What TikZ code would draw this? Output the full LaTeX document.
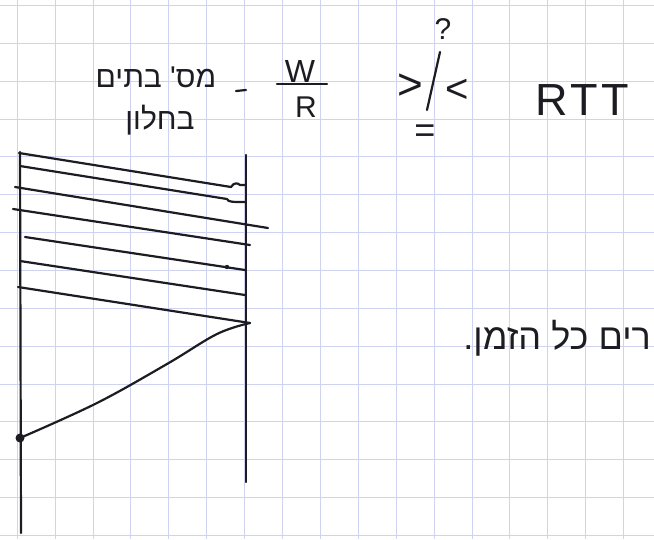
\documentclass[tikz,border=0pt]{standalone}
\usepackage{fontspec}
\setmainfont{Liberation Sans}
\newfontfamily\hebfont[Script=Hebrew]{Liberation Sans}
\TeXXeTstate=1
\definecolor{gridc}{RGB}{208,211,240}
\definecolor{ink}{RGB}{28,28,34}
\tikzset{
  gridline/.style={draw=gridc,line width=0.6pt},
  pen/.style={draw=ink,line width=2.2pt,line cap=round,line join=round},
  txt/.style={text=ink,inner sep=0pt},
}
\begin{document}
\begin{tikzpicture}[x=1pt,y=-1pt]
\useasboundingbox (0,0) rectangle (654,539);
\fill[white] (0,0) rectangle (654,539);
% grid paper
\foreach \i in {0,...,16} \draw[gridline] ({17+37.9*\i},0) -- ({17+37.9*\i},539);
\foreach \j in {0,...,14} \draw[gridline] (0,{5.3+37.85*\j}) -- (654,{5.3+37.85*\j});
% heading texts
\node[txt,font=\hebfont\fontsize{30}{30}\selectfont] (t1) at (156,77) {\beginR מס' בתים\endR};
\node[txt,font=\hebfont\fontsize{30}{30}\selectfont] (t2) at (160,120) {\beginR בחלון\endR};
\coordinate (d1) at (236,91); \coordinate (d2) at (246,90);
\draw[pen] (d1) -- (d2);
\node[txt,font=\fontsize{32}{32}\selectfont] (w) at (300,71) {W};
\coordinate (fb1) at (277,84); \coordinate (fb2) at (327,84);
\draw[pen] (fb1) -- (fb2);
\node[txt,font=\fontsize{30}{30}\selectfont] (r) at (306,107) {R};
\node[txt,font=\fontsize{44}{44}\selectfont] (gt) at (410,87) {>};
\node[txt,font=\fontsize{40}{40}\selectfont] (lt) at (457,91) {<};
\node[txt,font=\fontsize{30}{30}\selectfont] (q) at (443,29) {?};
\node[txt,font=\fontsize{36}{36}\selectfont] (eq) at (425,134) {=};
\coordinate (s1) at (440,52); \coordinate (s2) at (427,110);
\draw[pen] (s1) -- (s2);
\node[txt,font=\fontsize{45}{45}\selectfont] (rtt) at (582,100) {R\kern3pt T\kern3pt T};
\node[txt,font=\hebfont\fontsize{36}{36}\selectfont,anchor=east] (t3) at (651,338) {\beginR רים כל הזמן.\endR};
% timelines
\coordinate (Ltop) at (20,152); \coordinate (Lbot) at (21,533);
\coordinate (Rtop) at (246,155); \coordinate (Rbot) at (246,482);
\draw[pen] (Ltop) -- (Lbot);
\draw[pen] (Rtop) -- (Rbot);
% segments sent
\coordinate (a1) at (19,153); \coordinate (b1) at (231,187);
\coordinate (a2) at (20,166); \coordinate (b2) at (227,199);
\coordinate (a3) at (15,187); \coordinate (b3) at (268,228);
\coordinate (a4) at (13,209); \coordinate (b4) at (250,245);
\coordinate (a5) at (25,237); \coordinate (b5) at (245,270);
\coordinate (a6) at (20,261); \coordinate (b6) at (245,295);
\coordinate (a7) at (18,287); \coordinate (b7) at (250,323);
\draw[pen] (a1) -- (b1) .. controls (234,182) and (238,183) .. (240,185) -- (245,185);
\draw[pen] (a2) -- (b2) .. controls (228,202) and (232,202) .. (245,202);
\draw[pen] (a3) -- (b3);
\draw[pen] (a4) -- (b4);
\draw[pen] (a5) -- (b5);
\fill[ink] (227,267) circle (2.2pt);
\draw[pen] (a6) -- (b6);
\draw[pen] (a7) -- (b7);
% acknowledgement
\coordinate (ack) at (20,438);
\draw[pen] plot[smooth,tension=0.6] coordinates {(b7) (217,334) (167,364) (97,403) (ack)};
\fill[ink] (ack) circle (4.5pt);
\end{tikzpicture}
\end{document}
